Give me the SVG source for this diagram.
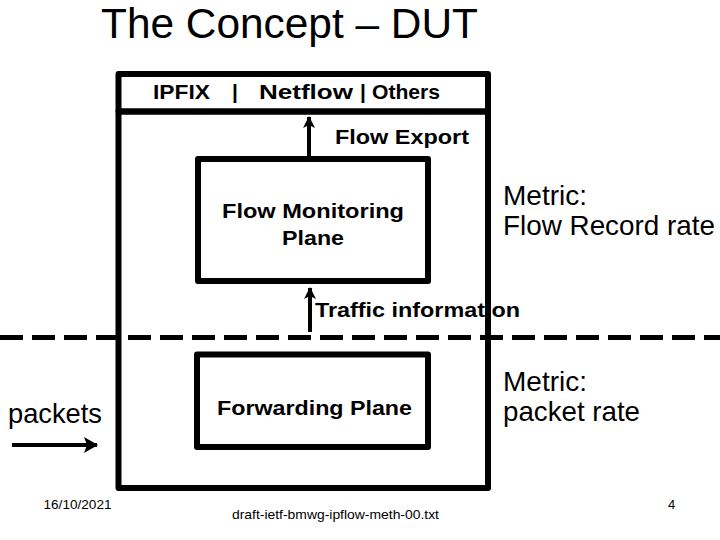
<svg xmlns="http://www.w3.org/2000/svg" width="720" height="540" viewBox="0 0 720 540">
  <style>
    .box { fill: none; stroke: #000; stroke-width: 6; stroke-linejoin: round; }
    .reg { font-family: "Liberation Sans", Arial, sans-serif; fill: #000; }
    .bold { font-family: "Liberation Sans", Arial, sans-serif; font-weight: bold; font-size: 21px; fill: #000; }
    .metric { font-size: 28px; }
    .foot { font-size: 13px; }
    .conn { stroke: #000; stroke-width: 4; fill: none; }
  </style>
  <defs>
    <marker id="arrow" viewBox="0 0 12 12" refX="11" refY="6" markerWidth="12" markerHeight="12" markerUnits="userSpaceOnUse" orient="auto">
      <path d="M0,0 L12,6 L0,12 L3,6 Z" fill="#000"/>
    </marker>
    <marker id="arrow-big" viewBox="0 0 14 16" refX="13" refY="8" markerWidth="14" markerHeight="16" markerUnits="userSpaceOnUse" orient="auto">
      <path d="M0,0 L14,8 L0,16 L3,8 Z" fill="#000"/>
    </marker>
  </defs>
  <rect x="0" y="0" width="720" height="540" fill="#fff"/>

  <g id="title">
    <text class="reg" x="101" y="38" font-size="42" textLength="377" lengthAdjust="spacingAndGlyphs">The Concept – DUT</text>
  </g>

  <g id="boundary">
    <line x1="0" y1="337.5" x2="720" y2="337.5" stroke="#000" stroke-width="5" stroke-dasharray="23 9"/>
  </g>

  <g id="labels">
    <text class="bold" x="335" y="143.5" textLength="134" lengthAdjust="spacingAndGlyphs">Flow Export</text>
    <text class="bold" x="315" y="316.5" textLength="205" lengthAdjust="spacingAndGlyphs">Traffic information</text>
  </g>

  <g id="export-protocols">
    <rect class="box" x="118.5" y="74" width="369.5" height="37.5"/>
    <text class="bold" y="99"><tspan x="153" textLength="57" lengthAdjust="spacingAndGlyphs">IPFIX</tspan><tspan x="232">|</tspan><tspan x="259" textLength="94" lengthAdjust="spacingAndGlyphs">Netflow</tspan><tspan x="360">|</tspan><tspan x="372" textLength="68" lengthAdjust="spacingAndGlyphs">Others</tspan></text>
  </g>

  <g id="dut">
    <rect class="box" x="118.5" y="111.5" width="369.5" height="376.5"/>
  </g>

  <g id="flow-monitoring-plane">
    <rect class="box" x="198" y="159" width="230" height="122"/>
    <text class="bold" x="313" y="218" text-anchor="middle" textLength="182" lengthAdjust="spacingAndGlyphs">Flow Monitoring</text>
    <text class="bold" x="313" y="245" text-anchor="middle" textLength="62" lengthAdjust="spacingAndGlyphs">Plane</text>
  </g>

  <g id="forwarding-plane">
    <rect class="box" x="197" y="354.5" width="231" height="92.5"/>
    <text class="bold" x="217" y="415" textLength="195" lengthAdjust="spacingAndGlyphs">Forwarding Plane</text>
  </g>

  <g id="connectors">
    <line class="conn" x1="309" y1="156" x2="309" y2="117" marker-end="url(#arrow)"/>
    <line class="conn" x1="310" y1="332" x2="310" y2="288" marker-end="url(#arrow)"/>
    <line class="conn" x1="12" y1="445" x2="97" y2="445" stroke-width="5" marker-end="url(#arrow-big)"/>
  </g>

  <g id="metric-flow">
    <text class="reg metric" x="503" y="205">Metric:</text>
    <text class="reg metric" x="503" y="235" textLength="212" lengthAdjust="spacingAndGlyphs">Flow Record rate</text>
  </g>

  <g id="metric-packet">
    <text class="reg metric" x="503" y="391">Metric:</text>
    <text class="reg metric" x="503" y="421" textLength="137" lengthAdjust="spacingAndGlyphs">packet rate</text>
  </g>

  <g id="packets">
    <text class="reg metric" x="8" y="423" textLength="94" lengthAdjust="spacingAndGlyphs">packets</text>
  </g>

  <g id="footer">
    <text class="reg foot" x="43.5" y="508.5" textLength="68" lengthAdjust="spacingAndGlyphs">16/10/2021</text>
    <text class="reg foot" x="232" y="519" textLength="207" lengthAdjust="spacingAndGlyphs">draft-ietf-bmwg-ipflow-meth-00.txt</text>
    <text class="reg foot" x="668" y="509">4</text>
  </g>
</svg>
